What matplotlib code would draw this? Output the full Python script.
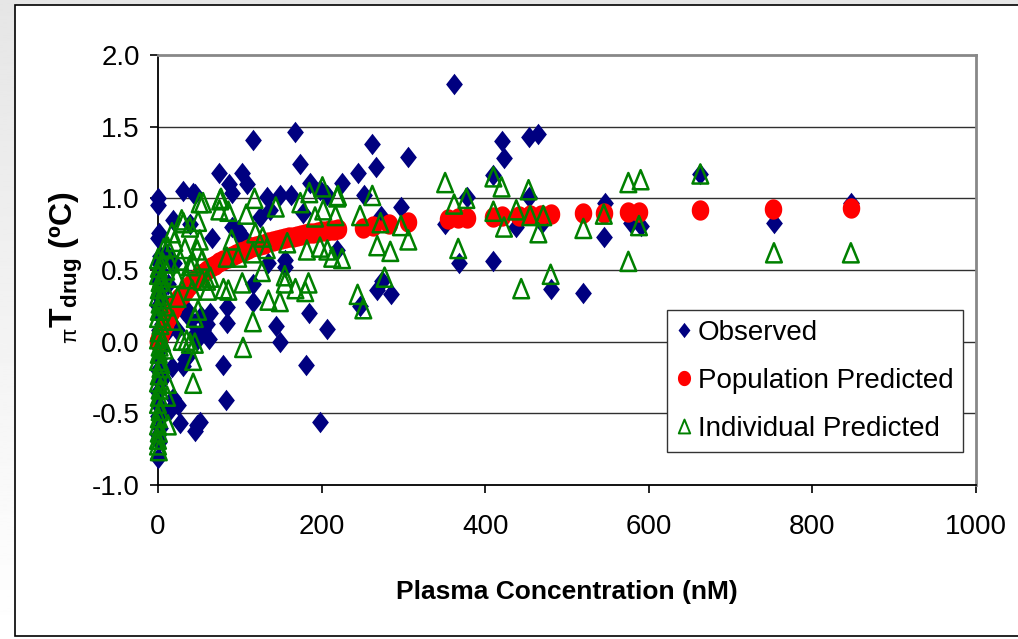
import numpy as np
import matplotlib
matplotlib.use("Agg")
import matplotlib.pyplot as plt
from matplotlib.path import Path
from matplotlib.patches import Rectangle
from matplotlib.lines import Line2D

plt.rcParams['font.family'] = ['Liberation Sans', 'DejaVu Sans']
plt.rcParams['axes.unicode_minus'] = False
plt.rcParams['mathtext.fontset'] = 'custom'
plt.rcParams['mathtext.rm'] = 'Liberation Sans'
plt.rcParams['mathtext.bf'] = 'Liberation Sans:bold'
plt.rcParams['mathtext.it'] = 'Liberation Sans:italic'

# ---------------- data ----------------
obs_x = [0, 0, 1, 0, 1, 2, 0, 1, 0, 2, 1, 0, 3, 1, 0, 2, 0, 1, 0, 2, 0, 1, 0, 4, 5, 6, 3, 8,
         18, 31, 43, 39, 45, 55, 48, 64, 36, 33, 27, 45, 48, 51, 18, 15, 24, 31, 23, 12, 20, 10,
         28, 40, 52, 60, 30, 45, 62, 35, 17,
         75, 103, 87, 109, 116, 168, 173, 186, 225, 244, 90, 133, 149, 162, 198, 207, 125, 137,
         177, 98, 104, 66, 135, 155, 155, 116, 116, 84, 84, 184, 207, 144, 149, 80, 181, 83, 198,
         219, 90, 102,
         362, 262, 266, 306, 420, 423, 453, 464, 410, 378, 252, 297, 273, 351, 454, 438, 470, 547,
         545, 578, 590, 663, 753, 847, 368, 409, 274, 268, 285, 481, 520, 247]
obs_y = [1.00, 0.95, 0.76, 0.72, 0.55, 0.50, 0.42, 0.33, 0.25, 0.18, 0.08, 0.00, -0.05, -0.12,
         -0.20, -0.28, -0.35, -0.45, -0.52, -0.60, -0.65, -0.70, -0.81, 0.30, 0.12, -0.25, 0.60, 0.05,
         0.85, 1.05, 1.04, 0.82, 1.03, 0.08, 0.01, 0.20, 0.22, -0.12, -0.57, -0.62, -0.58, -0.56,
         -0.39, -0.48, -0.44, -0.17, 0.08, 0.40, 0.55, 0.62, 0.30, 0.15, 0.18, 0.12, 0.22, 0.05,
         0.02, -0.11, -0.18,
         1.18, 1.18, 1.10, 1.10, 1.41, 1.46, 1.24, 1.11, 1.11, 1.18, 1.04, 1.01, 1.02, 1.02, 1.06,
         1.02, 0.87, 0.92, 0.90, 0.78, 0.73, 0.72, 0.55, 0.57, 0.52, 0.40, 0.28, 0.24, 0.13, 0.20,
         0.09, 0.11, 0.00, -0.16, -0.16, -0.41, -0.56, 0.64, 0.80, 0.74,
         1.80, 1.38, 1.22, 1.29, 1.40, 1.28, 1.43, 1.45, 1.16, 1.01, 1.02, 0.94, 0.88, 0.82, 1.01,
         0.80, 0.83, 0.97, 0.73, 0.83, 0.81, 1.17, 0.83, 0.97, 0.55, 0.56, 0.42, 0.36, 0.33, 0.37,
         0.34, 0.25]

pop_x = [0, 0.5, 1, 2, 3, 4, 5, 6, 8, 10, 12, 14, 16, 18, 20, 23, 26, 30, 34, 38, 42, 46, 50,
         55, 60, 65, 70, 75, 80, 85, 90, 95, 100, 105, 110, 115, 120, 125, 130, 135, 140, 145,
         150, 155, 160, 165, 170, 175, 180, 185, 190, 195, 200, 205, 210, 215, 220,
         250, 263, 282, 306, 354, 367, 378, 410, 421, 441, 455, 468, 480, 520, 545, 575, 588,
         663, 752, 847]
pop_y = [0.0, 0.008, 0.016, 0.032, 0.048, 0.062, 0.077, 0.091, 0.118, 0.143, 0.167, 0.189,
         0.21, 0.23, 0.25, 0.277, 0.302, 0.333, 0.362, 0.388, 0.412, 0.434, 0.455, 0.478, 0.50,
         0.52, 0.538, 0.556, 0.571, 0.586, 0.60, 0.613, 0.625, 0.636, 0.647, 0.657, 0.667, 0.676,
         0.684, 0.692, 0.70, 0.707, 0.714, 0.721, 0.727, 0.733, 0.739, 0.745, 0.75, 0.755, 0.76,
         0.765, 0.769, 0.774, 0.778, 0.782, 0.786,
         0.795, 0.805, 0.82, 0.835, 0.855, 0.86, 0.865, 0.87, 0.875, 0.88, 0.885, 0.887, 0.89,
         0.897, 0.90, 0.905, 0.907, 0.917, 0.926, 0.934]

ind_x = [0, 1, 0, 2, 1, 0, 2, 1, 0, 3, 1, 0, 2, 1, 0, 3, 1, 0, 2, 1, 0, 2, 1, 0, 1, 0, 0, 1,
         4, 5, 6, 5, 4, 6, 7, 8, 9, 10, 8,
         51, 76, 29, 17, 39, 51, 12, 27, 48, 54, 39, 23, 35, 60, 24, 42, 61, 49, 45, 18, 29, 39,
         45, 43, 43, 12, 11, 12, 31, 49, 55, 54, 43, 64, 35, 20, 15, 33,
         201, 220, 185, 174, 144, 118, 77, 75, 86, 108, 202, 217, 192, 247, 90, 119, 128, 84, 98,
         116, 133, 158, 182, 198, 207, 213, 225, 127, 103, 155, 155, 168, 180, 184, 80, 86, 135,
         149, 116, 104, 244, 251,
         351, 410, 420, 453, 377, 362, 262, 219, 272, 297, 306, 268, 284, 367, 410, 423, 438, 455,
         471, 465, 520, 545, 480, 444, 277, 575, 590, 663, 588, 575, 753, 847]
ind_y = [0.58, 0.52, 0.47, 0.42, 0.37, 0.32, 0.27, 0.22, 0.17, 0.12, 0.07, 0.02, -0.03, -0.08,
         -0.13, -0.18, -0.23, -0.28, -0.33, -0.38, -0.43, -0.48, -0.53, -0.58, -0.63, -0.68, -0.72,
         -0.76, 0.45, 0.30, 0.15, 0.00, -0.15, 0.55, 0.65, 0.38, 0.25, 0.50, -0.05,
         0.97, 0.99, 0.85, 0.76, 0.80, 0.71, 0.66, 0.57, 0.64, 0.57, 0.53, 0.45, 0.44, 0.43, 0.31,
         0.36, 0.36, 0.22, 0.17, 0.15, 0.01, -0.01, -0.01, -0.13, -0.29, -0.29, -0.38, -0.58, 0.83,
         0.84, 0.97, 0.43, 0.55, 0.45, 0.01, 0.70, 0.55, 0.65,
         1.08, 1.02, 1.04, 0.97, 0.94, 1.00, 1.00, 0.92, 0.91, 0.89, 0.92, 0.88, 0.87, 0.88, 0.71,
         0.76, 0.73, 0.59, 0.59, 0.62, 0.65, 0.69, 0.64, 0.66, 0.64, 0.59, 0.58, 0.49, 0.41, 0.46,
         0.41, 0.37, 0.35, 0.41, 0.37, 0.36, 0.29, 0.28, 0.14, -0.04, 0.33, 0.23,
         1.11, 1.15, 1.08, 1.06, 1.00, 0.96, 1.02, 1.01, 0.83, 0.81, 0.71, 0.67, 0.63, 0.65, 0.91,
         0.80, 0.92, 0.88, 0.88, 0.76, 0.79, 0.89, 0.47, 0.37, 0.45, 1.11, 1.13, 1.17, 0.81, 0.56,
         0.62, 0.62]

series_labels = ["Observed", "Population Predicted", "Individual Predicted"]
x_ticks = [0, 200, 400, 600, 800, 1000]
y_ticks = [-1.0, -0.5, 0.0, 0.5, 1.0, 1.5, 2.0]

# ---------------- figure ----------------
W, H = 1018, 639
fig = plt.figure(figsize=(W / 100, H / 100), dpi=100)
fig.patch.set_facecolor('white')

# background gradient + frame
bg = fig.add_axes([0, 0, 1, 1], zorder=-10)
grad = np.linspace(0.90, 1.0, 256).reshape(-1, 1)
bg.imshow(grad, cmap='gray', vmin=0, vmax=1, aspect='auto', extent=[0, 1, 0, 1])
bg.add_patch(Rectangle((15 / W, 1 - 636 / H), 1.2, (636 - 5) / H, facecolor='white',
                       edgecolor='black', linewidth=1.2, transform=bg.transAxes))
bg.set_xlim(0, 1); bg.set_ylim(0, 1)
bg.axis('off')

ax = fig.add_axes([158 / W, 1 - 485 / H, (976 - 158) / W, (485 - 55) / H])

diamond = Path([(0, 1), (0.78, 0), (0, -1), (-0.78, 0), (0, 1)],
               [Path.MOVETO, Path.LINETO, Path.LINETO, Path.LINETO, Path.CLOSEPOLY])
tri = Path([(0, 1), (0.82, -1), (-0.82, -1), (0, 1)],
           [Path.MOVETO, Path.LINETO, Path.LINETO, Path.CLOSEPOLY])
t = np.linspace(0, 2 * np.pi, 40)
ellipse = Path(np.column_stack([0.86 * np.cos(t), np.sin(t)]))

navy, red, green = '#000080', '#FF0000', '#008000'

ax.scatter(obs_x, obs_y, marker=diamond, s=240, color=navy, linewidths=0, zorder=3,
           clip_on=False)
ax.scatter(pop_x, pop_y, marker=ellipse, s=215, color=red, linewidths=0, zorder=4,
           clip_on=False)
ax.scatter(ind_x, ind_y, marker=tri, s=190, facecolors='none', edgecolors=green,
           linewidths=1.8, zorder=5, clip_on=False)

ax.set_xlim(0, 1000)
ax.set_ylim(-1.0, 2.0)
ax.set_xticks(x_ticks)
ax.set_xticklabels([str(v) for v in x_ticks])
ax.set_yticks(y_ticks)
ax.set_yticklabels(['%.1f' % v for v in y_ticks])
ax.tick_params(axis='both', direction='out', length=6, width=1.2, labelsize=20, colors='black')
ax.tick_params(axis='x', pad=15)
ax.tick_params(axis='y', pad=7)
for v in y_ticks[1:-1]:
    ax.axhline(v, color='#303030', linewidth=1.0, zorder=1)
ax.spines['left'].set_color('black'); ax.spines['left'].set_linewidth(1.3)
ax.spines['bottom'].set_color('black'); ax.spines['bottom'].set_linewidth(1.3)
ax.spines['top'].set_color('#888888'); ax.spines['top'].set_linewidth(2)
ax.spines['right'].set_color('#888888'); ax.spines['right'].set_linewidth(2)

fig.text(567 / W, 1 - 592 / H, 'Plasma Concentration (nM)', ha='center', va='center',
         fontsize=19, fontweight='bold')
fig.text(66 / W, 1 - 268 / H, r'${}_{\mathrm{π}}\mathbf{T}_{\mathbf{drug}}$ (ºC)', rotation=90,
         ha='center', va='center', fontsize=23, fontweight='bold')

handles = [
    Line2D([], [], linestyle='none', marker=diamond, markersize=11, color=navy, markeredgewidth=0),
    Line2D([], [], linestyle='none', marker=ellipse, markersize=11, color=red, markeredgewidth=0),
    Line2D([], [], linestyle='none', marker=tri, markersize=10, markerfacecolor='none',
           markeredgecolor=green, markeredgewidth=1.4),
]
leg = fig.legend(handles, series_labels, loc='upper left',
                 bbox_to_anchor=(667 / W, 1 - 310 / H), fontsize=20, frameon=True,
                 fancybox=False, shadow=False, edgecolor='#333333', framealpha=1,
                 handlelength=0.5, handletextpad=0.25, labelspacing=0.8, borderpad=0.35,
                 borderaxespad=0)
leg.get_frame().set_linewidth(1.0)

fig.savefig('out.png', dpi=100)
